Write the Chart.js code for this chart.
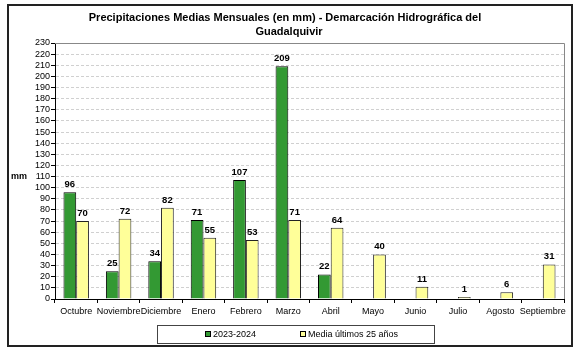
<!DOCTYPE html>
<html>
<head>
<meta charset="utf-8">
<script src="https://cdn.jsdelivr.net/npm/chart.js@4/dist/chart.umd.min.js"></script>
<style>
  html, body { margin: 0; padding: 0; background: #fff; }
  #wrap { width: 585px; height: 354px; position: relative; }
</style>
</head>
<body>
<div id="wrap"><canvas id="myChart" width="585" height="354"></canvas></div>
<script>
const months = ['Octubre', 'Noviembre', 'Diciembre', 'Enero', 'Febrero', 'Marzo', 'Abril', 'Mayo', 'Junio', 'Julio', 'Agosto', 'Septiembre'];
const actual = [96, 25, 34, 71, 107, 209, 22, null, null, null, null, null];
const media = [70, 72, 82, 55, 53, 71, 64, 40, 11, 1, 6, 31];
const seriesNames = ['2023-2024', 'Media últimos 25 años'];
const titleLines = ['Precipitaciones Medias Mensuales (en mm) - Demarcación Hidrográfica del', 'Guadalquivir'];

const FONT = '"Liberation Sans", Arial, sans-serif';

// textos fijos: marco, titulo, "mm", leyenda y valores encima de las barras
const decor = {
  id: 'decor',
  beforeDatasetsDraw(chart) {
    const ctx = chart.ctx, a = chart.chartArea;
    ctx.save();
    ctx.strokeStyle = '#888';
    ctx.lineWidth = 1;
    ctx.beginPath();
    ctx.moveTo(a.left, a.top + 0.5);
    ctx.lineTo(a.right + 0.5, a.top + 0.5);
    ctx.lineTo(a.right + 0.5, a.bottom);
    ctx.stroke();
    ctx.restore();
  },
  afterDraw(chart) {
    const ctx = chart.ctx;
    ctx.save();
    // marco exterior
    ctx.strokeStyle = '#222';
    ctx.lineWidth = 2;
    ctx.strokeRect(8, 5, 564, 341);

    // titulo
    ctx.fillStyle = '#000';
    ctx.font = 'bold 11px ' + FONT;
    ctx.textAlign = 'center';
    ctx.textBaseline = 'middle';
    ctx.fillText(titleLines[0], 285, 18);
    ctx.fillText(titleLines[1], 289, 32);

    // unidad
    ctx.font = 'bold 9px ' + FONT;
    ctx.fillText('mm', 19, 177);

    // valores
    ctx.font = 'bold 9.5px ' + FONT;
    ctx.textBaseline = 'bottom';
    chart.data.datasets.forEach((ds, i) => {
      chart.getDatasetMeta(i).data.forEach((bar, j) => {
        if (ds.data[j] == null) return;
        ctx.fillText(ds.data[j], bar.x, bar.y - 3);
      });
    });

    // leyenda
    ctx.strokeStyle = '#444';
    ctx.lineWidth = 1;
    ctx.strokeRect(157.5, 325.5, 277, 18);
    ctx.font = '9px ' + FONT;
    ctx.textAlign = 'left';
    ctx.textBaseline = 'middle';
    const lx = [205, 300];
    chart.data.datasets.forEach((ds, i) => {
      ctx.fillStyle = ds.backgroundColor;
      ctx.fillRect(lx[i], 331, 6, 6);
      ctx.strokeStyle = '#000';
      ctx.strokeRect(lx[i] + 0.5, 331.5, 5, 5);
      ctx.fillStyle = '#000';
      ctx.fillText(ds.label, lx[i] + 8, 334.5);
    });
    ctx.restore();
  }
};

const ctx = document.getElementById('myChart').getContext('2d');
new Chart(ctx, {
  type: 'bar',
  data: {
    labels: months,
    datasets: [{
      label: seriesNames[0],
      data: actual,
      backgroundColor: '#339933',
      borderColor: '#000',
      borderWidth: 1
    }, {
      label: seriesNames[1],
      data: media,
      backgroundColor: '#FFFF99',
      borderColor: '#222',
      borderWidth: 1,
      minBarLength: 2
    }]
  },
  options: {
    responsive: false,
    animation: false,
    layout: { padding: { left: 0, right: 21, top: 43, bottom: 0 } },
    datasets: { bar: { categoryPercentage: 0.6, barPercentage: 1.0 } },
    plugins: {
      legend: { display: false },
      tooltip: { enabled: false }
    },
    scales: {
      x: {
        afterFit(scale) { scale.height = 55; },
        grid: { offset: true, drawOnChartArea: false, tickLength: 4, tickColor: '#000' },
        border: { color: '#000', width: 1 },
        ticks: { color: '#000', font: { family: FONT, size: 9 }, padding: 3, maxRotation: 0, autoSkip: false }
      },
      y: {
        min: 0,
        max: 230,
        afterFit(scale) { scale.width = 55; },
        grid: { color: '#d0d0d0', tickLength: 4, tickColor: '#000' },
        border: { color: '#000', width: 1, dash: [3, 2] },
        ticks: { stepSize: 10, autoSkip: false, color: '#000', font: { family: FONT, size: 9 }, padding: 1 }
      }
    }
  },
  plugins: [decor]
});
</script>
</body>
</html>
